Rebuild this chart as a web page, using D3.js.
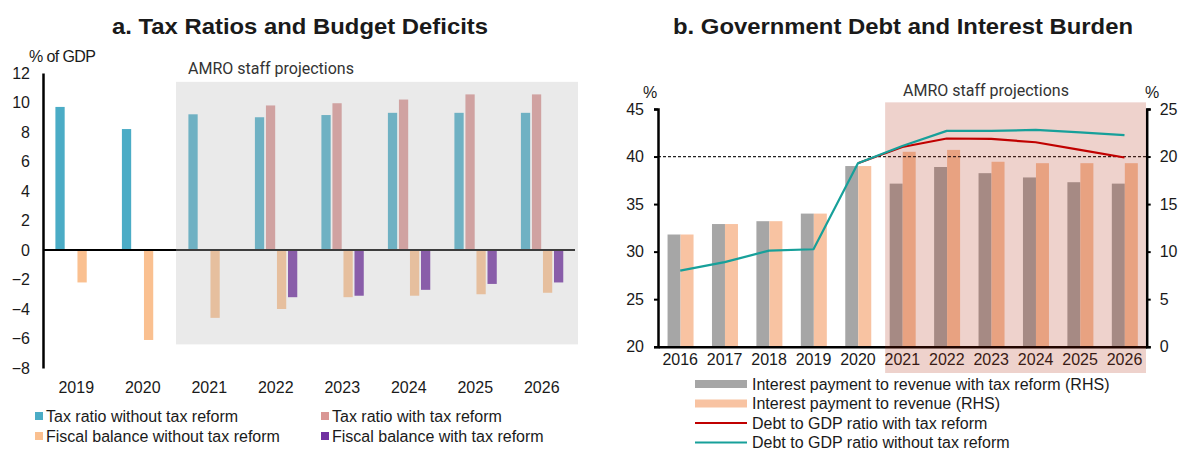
<!DOCTYPE html>
<html>
<head>
<meta charset="utf-8">
<script src="https://cdn.jsdelivr.net/npm/d3@7"></script>
<style>
  html, body { margin: 0; padding: 0; background: #fff; }
  svg { display: block; font-family: "Liberation Sans", Arial, sans-serif; }
</style>
</head>
<body>
<svg id="chart" width="1179" height="451"></svg>
<script>
// ---- Panel a: tax ratios and fiscal balances (% of GDP) ----
const yearsA = ["2019", "2020", "2021", "2022", "2023", "2024", "2025", "2026"];
const taxWithout    = [9.7, 8.2, 9.2, 9.0, 9.15, 9.3, 9.3, 9.3];
const taxWith       = [null, null, null, 9.8, 9.95, 10.2, 10.55, 10.55];
const fiscalWithout = [-2.2, -6.1, -4.6, -4.0, -3.2, -3.1, -3.0, -2.9];
const fiscalWith    = [null, null, null, -3.2, -3.1, -2.7, -2.3, -2.2];
const ticksA = [12, 10, 8, 6, 4, 2, 0, -2, -4, -6, -8];
const seriesA = ["Tax ratio without tax reform", "Tax ratio with tax reform",
                 "Fiscal balance without tax reform", "Fiscal balance with tax reform"];
const colorsA = ["#4BACC6", "#D99694", "#FAC090", "#7030A0"];

// ---- Panel b: debt and interest burden ----
const yearsB = ["2016", "2017", "2018", "2019", "2020", "2021", "2022", "2023", "2024", "2025", "2026"];
const interestWithReform = [11.8, 12.9, 13.2, 14.0, 19.0, 17.15, 18.9, 18.25, 17.8, 17.3, 17.15];
const interestBaseline   = [11.8, 12.9, 13.2, 14.0, 19.0, 20.5, 20.7, 19.45, 19.3, 19.3, 19.3];
const debtWithReform     = [null, null, null, null, 39.3, 41.0, 41.9, 41.85, 41.5, 40.7, 39.9];
const debtWithoutReform  = [28.0, 28.9, 30.1, 30.25, 39.3, 41.1, 42.7, 42.7, 42.8, 42.55, 42.25];
const ticksBLeft  = [20, 25, 30, 35, 40, 45];
const ticksBRight = [0, 5, 10, 15, 20, 25];
const debtThreshold = 40;
const projectionStart = "2021";

const svg = d3.select("#chart");
const txt = "#1a1a1a";

// =================== Panel a ===================
const gA = svg.append("g");
const xA = d3.scaleBand().domain(yearsA).range([43, 575]);
const yA = d3.scaleLinear().domain([-8, 12]).range([368, 73]);
const xInA = d3.scaleBand().domain(d3.range(4)).range([xA.step() * 0.16, xA.step() * 0.85]).padding(0.16);

gA.append("text").attr("x", 112).attr("y", 34)
  .attr("font-size", 21.5).attr("font-weight", "bold").attr("fill", txt)
  .attr("textLength", 376).attr("lengthAdjust", "spacingAndGlyphs")
  .text("a. Tax Ratios and Budget Deficits");

const allA = [taxWithout, taxWith, fiscalWithout, fiscalWith];
allA.forEach((vals, si) => {
  gA.append("g").selectAll("rect")
    .data(vals.map((v, i) => ({ year: yearsA[i], v })).filter(d => d.v !== null))
    .join("rect")
    .attr("x", d => xA(d.year) + xInA(si))
    .attr("width", xInA.bandwidth())
    .attr("y", d => yA(Math.max(0, d.v)))
    .attr("height", d => Math.abs(yA(d.v) - yA(0)))
    .attr("fill", colorsA[si]);
});

// zero line
gA.append("line").attr("x1", 43).attr("x2", 575).attr("y1", yA(0)).attr("y2", yA(0))
  .attr("stroke", "#000").attr("stroke-width", 2);

// projection shading
gA.append("rect")
  .attr("x", xA(projectionStart)).attr("width", 578 - xA(projectionStart))
  .attr("y", yA(11.4)).attr("height", yA(-6.4) - yA(11.4))
  .attr("fill", "rgb(191,191,191)").attr("fill-opacity", 0.32);
gA.append("text").attr("x", 188).attr("y", 74).attr("font-family", "Roboto, sans-serif")
  .attr("font-size", 16).attr("fill", "#333").text("AMRO staff projections");

// y axis
const axA = gA.append("g").attr("transform", "translate(43,0)")
  .call(d3.axisLeft(yA).tickValues(ticksA).tickSize(0).tickPadding(13));
axA.select(".domain").attr("stroke", "#000").attr("stroke-width", 2.5);
axA.selectAll("text").attr("font-size", 16).attr("fill", txt).attr("font-family", "Liberation Sans, Arial");

// x labels at bottom
const axXA = gA.append("g").attr("transform", "translate(0,377)")
  .call(d3.axisBottom(xA).tickSize(0).tickPadding(5));
axXA.select(".domain").remove();
axXA.selectAll("text").attr("font-size", 16).attr("fill", txt).attr("font-family", "Liberation Sans, Arial");

gA.append("text").attr("x", 29).attr("y", 62).attr("font-size", 16).attr("fill", txt)
  .attr("letter-spacing", -0.6).text("% of GDP");

// legend
const legA = [
  { i: 0, x: 35, y: 416 }, { i: 1, x: 321, y: 416 },
  { i: 2, x: 35, y: 436 }, { i: 3, x: 321, y: 436 }
];
legA.forEach(d => {
  gA.append("rect").attr("x", d.x).attr("y", d.y - 4).attr("width", 8).attr("height", 8).attr("fill", colorsA[d.i]);
  gA.append("text").attr("x", d.x + 11).attr("y", d.y + 6).attr("font-size", 16).attr("fill", txt)
    .text(seriesA[d.i]);
});

// =================== Panel b ===================
const gB = svg.append("g");
const xB = d3.scaleBand().domain(yearsB).range([658, 1146.7]);
const yL = d3.scaleLinear().domain([20, 45]).range([346.7, 109]);
const yR = d3.scaleLinear().domain([0, 25]).range([346.7, 109]);
const xInB = d3.scaleBand().domain([0, 1]).range([xB.step() * 0.215, xB.step() * 0.8]);

gB.append("text").attr("x", 673).attr("y", 34)
  .attr("font-size", 21.5).attr("font-weight", "bold").attr("fill", txt)
  .attr("textLength", 460).attr("lengthAdjust", "spacingAndGlyphs")
  .text("b. Government Debt and Interest Burden");

const barColorsB = ["#A6A6A6", "#F8C3A2"];
[interestWithReform, interestBaseline].forEach((vals, si) => {
  gB.append("g").selectAll("rect")
    .data(vals.map((v, i) => ({ year: yearsB[i], v })))
    .join("rect")
    .attr("x", d => xB(d.year) + xInB(si))
    .attr("width", xInB.bandwidth())
    .attr("y", d => yR(d.v))
    .attr("height", d => yR(0) - yR(d.v))
    .attr("fill", barColorsB[si]);
});

// threshold line
gB.append("line").attr("x1", 658).attr("x2", 1146.7)
  .attr("y1", yL(debtThreshold)).attr("y2", yL(debtThreshold))
  .attr("stroke", "#222").attr("stroke-width", 1.2).attr("stroke-dasharray", "3,2");

// axes
const axBL = gB.append("g").attr("transform", "translate(658,0)")
  .call(d3.axisLeft(yL).tickValues(ticksBLeft).tickSize(4).tickPadding(10));
const axBR = gB.append("g").attr("transform", "translate(1146.7,0)")
  .call(d3.axisRight(yR).tickValues(ticksBRight).tickSize(4).tickPadding(9));
[axBL, axBR].forEach(a => {
  a.select(".domain").attr("stroke", "#000").attr("stroke-width", 2.5);
  a.selectAll("line").attr("stroke", "#000").attr("stroke-width", 2);
  a.selectAll("text").attr("font-size", 16).attr("fill", txt).attr("font-family", "Liberation Sans, Arial");
});
const axXB = gB.append("g").attr("transform", "translate(0,346.7)")
  .call(d3.axisBottom(xB).tickSize(0).tickPadding(7));
axXB.select(".domain").attr("stroke", "#000").attr("stroke-width", 2.5);
axXB.selectAll("text").attr("font-size", 16).attr("fill", txt).attr("font-family", "Liberation Sans, Arial");

// projection shading
gB.append("rect")
  .attr("x", xB(projectionStart) + 5).attr("width", 1146 - xB(projectionStart) - 5)
  .attr("y", yL(45.7)).attr("height", 373 - yL(45.7))
  .attr("fill", "rgb(171,31,0)").attr("fill-opacity", 0.2);
gB.append("text").attr("x", 903).attr("y", 96).attr("font-family", "Roboto, sans-serif")
  .attr("font-size", 16).attr("fill", "#333").text("AMRO staff projections");

// lines
const lineB = d3.line().defined(d => d.v !== null)
  .x(d => xB(d.year) + xB.bandwidth() / 2).y(d => yL(d.v));
const lineColors = ["#C00000", "#17A09A"];
[debtWithReform, debtWithoutReform].forEach((vals, si) => {
  gB.append("path").datum(vals.map((v, i) => ({ year: yearsB[i], v })))
    .attr("d", lineB).attr("fill", "none").attr("stroke", lineColors[si])
    .attr("stroke-width", 2.2).attr("stroke-linejoin", "round");
});

gB.append("text").attr("x", 643).attr("y", 98).attr("font-size", 16).attr("fill", txt).text("%");
gB.append("text").attr("x", 1145).attr("y", 98).attr("font-size", 16).attr("fill", txt).text("%");

// legend
const legB = [
  { label: "Interest payment to revenue with tax reform (RHS)", type: "bar", color: barColorsB[0] },
  { label: "Interest payment to revenue (RHS)", type: "bar", color: barColorsB[1] },
  { label: "Debt to GDP ratio with tax reform", type: "line", color: lineColors[0] },
  { label: "Debt to GDP ratio without tax reform", type: "line", color: lineColors[1] }
];
legB.forEach((d, i) => {
  const cy = 384 + i * 19.5;
  if (d.type === "bar") {
    gB.append("rect").attr("x", 695).attr("y", cy - 4).attr("width", 52).attr("height", 8).attr("fill", d.color);
  } else {
    gB.append("line").attr("x1", 695).attr("x2", 747).attr("y1", cy).attr("y2", cy)
      .attr("stroke", d.color).attr("stroke-width", 2.2);
  }
  gB.append("text").attr("x", 752).attr("y", cy + 5.5).attr("font-size", 16).attr("fill", txt)
    .text(d.label);
});
</script>
</body>
</html>
